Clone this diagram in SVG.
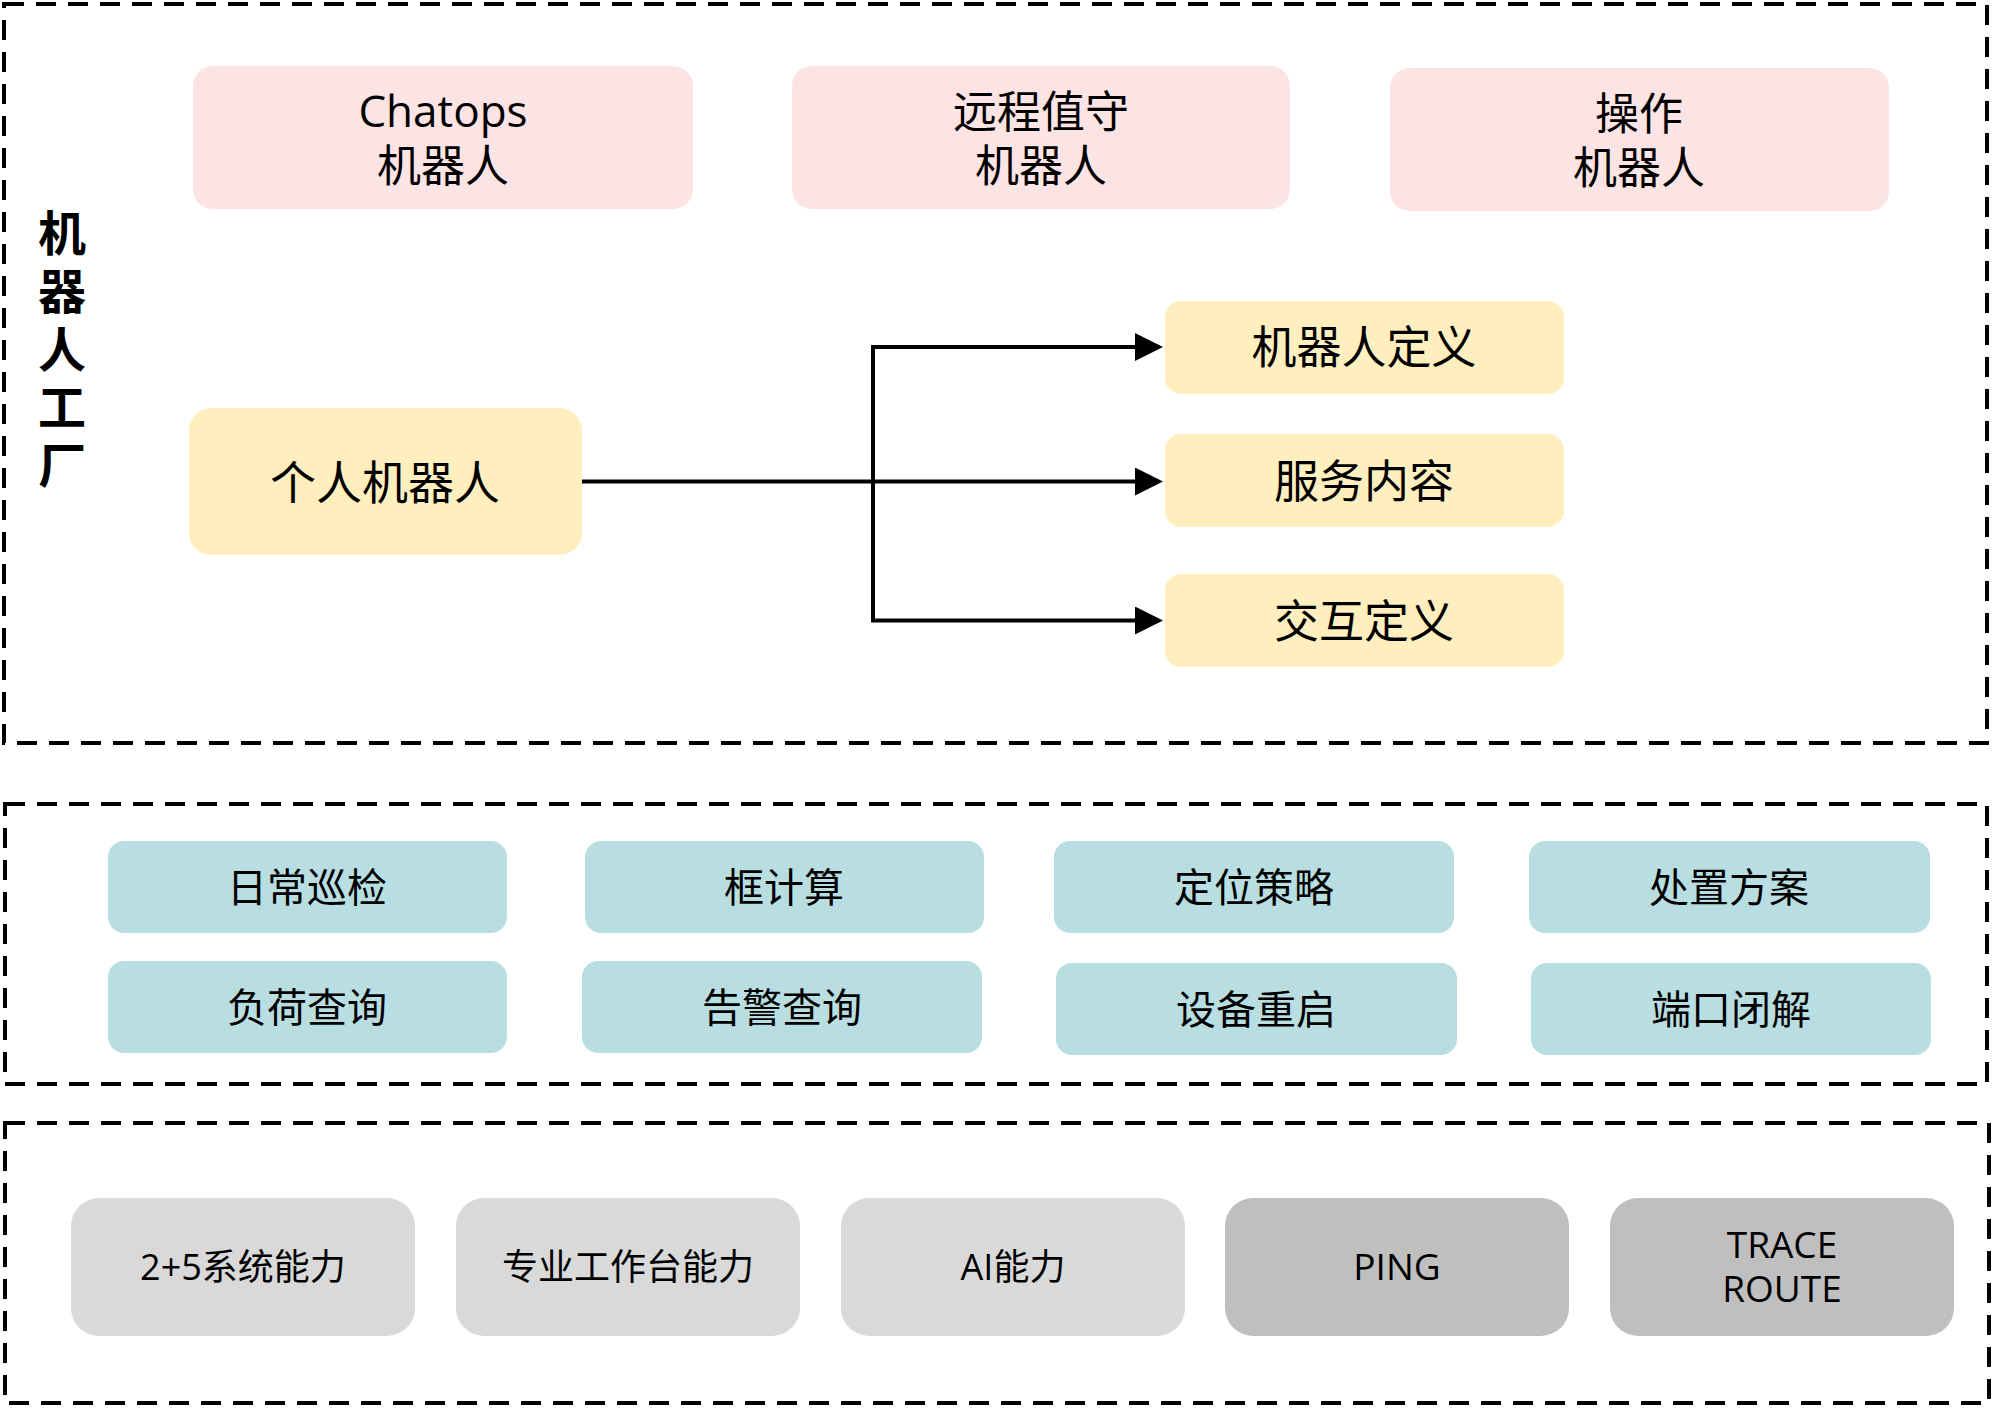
<svg xmlns="http://www.w3.org/2000/svg" width="2000" height="1415" viewBox="0 0 2000 1415">
<defs>
<style>
.frame{fill:none;stroke:#000;stroke-width:4;stroke-dasharray:20 12}
.pink{fill:#fde4e4}
.yellow{fill:#ffefbf}
.teal{fill:#b8dee2}
.lgray{fill:#d9d9d9}
.dgray{fill:#bfbfbf}
text{font-family:"Open Sans","Noto Sans CJK SC",sans-serif;fill:#000;text-anchor:middle}
.t44{font-size:44px}
.t45{font-size:45px}
.t40{font-size:40px}
.t36{font-size:36px}
.title{font-family:"Noto Sans CJK SC",sans-serif;font-size:48px;font-weight:bold;writing-mode:vertical-rl;text-orientation:upright;letter-spacing:10px;text-anchor:start}
.conn{fill:none;stroke:#000;stroke-width:4}
</style>
<marker id="arrow" markerUnits="userSpaceOnUse" markerWidth="28" markerHeight="28" refX="15" refY="14" orient="auto">
<path d="M0,0 L28,14 L0,28 z" fill="#000"/>
</marker>
</defs>
<rect width="2000" height="1415" fill="#fff"/>

<g id="frames">
<rect class="frame" x="4" y="4" width="1983" height="739"/>
<rect class="frame" x="5" y="804" width="1982" height="280"/>
<rect class="frame" x="5" y="1123" width="1984" height="280"/>
</g>

<g id="factory-title">
<text class="title" x="62" y="209">机器人工厂</text>
</g>

<g id="chatops-robot">
<rect class="pink" x="193" y="66" width="500" height="143" rx="20"/>
<text class="t44" x="443" y="127">Chatops<tspan x="443" dy="55">机器人</tspan></text>
</g>
<g id="remote-robot">
<rect class="pink" x="792" y="66" width="498" height="143" rx="20"/>
<text class="t44" x="1041" y="128">远程值守<tspan x="1041" dy="54">机器人</tspan></text>
</g>
<g id="operation-robot">
<rect class="pink" x="1390" y="68" width="499" height="143" rx="20"/>
<text class="t44" x="1639" y="130">操作<tspan x="1639" dy="54">机器人</tspan></text>
</g>

<g id="personal-robot">
<rect class="yellow" x="189" y="408" width="393" height="147" rx="22"/>
<text x="385" y="499" style="font-size:46px">个人机器人</text>
</g>
<g id="robot-definition">
<rect class="yellow" x="1165" y="301" width="399" height="93" rx="16"/>
<text class="t45" x="1364" y="364">机器人定义</text>
</g>
<g id="service-content">
<rect class="yellow" x="1165" y="434" width="399" height="93" rx="16"/>
<text class="t45" x="1364" y="498">服务内容</text>
</g>
<g id="interaction-definition">
<rect class="yellow" x="1165" y="574" width="399" height="93" rx="16"/>
<text class="t45" x="1364" y="638">交互定义</text>
</g>

<g id="connectors">
<path class="conn" d="M582,481.5 H1150" marker-end="url(#arrow)"/>
<path class="conn" d="M873,347 V621"/>
<path class="conn" d="M871,347 H1150" marker-end="url(#arrow)"/>
<path class="conn" d="M871,620.5 H1150" marker-end="url(#arrow)"/>
</g>

<g id="daily-inspection">
<rect class="teal" x="108" y="841" width="399" height="92" rx="16"/>
<text class="t40" x="307" y="902">日常巡检</text>
</g>
<g id="frame-compute">
<rect class="teal" x="585" y="841" width="399" height="92" rx="16"/>
<text class="t40" x="784" y="902">框计算</text>
</g>
<g id="locate-strategy">
<rect class="teal" x="1054" y="841" width="400" height="92" rx="16"/>
<text class="t40" x="1254" y="902">定位策略</text>
</g>
<g id="disposal-plan">
<rect class="teal" x="1529" y="841" width="401" height="92" rx="16"/>
<text class="t40" x="1729" y="902">处置方案</text>
</g>
<g id="load-query">
<rect class="teal" x="108" y="961" width="399" height="92" rx="16"/>
<text class="t40" x="307" y="1022">负荷查询</text>
</g>
<g id="alarm-query">
<rect class="teal" x="582" y="961" width="400" height="92" rx="16"/>
<text class="t40" x="782" y="1022">告警查询</text>
</g>
<g id="device-restart">
<rect class="teal" x="1056" y="963" width="401" height="92" rx="16"/>
<text class="t40" x="1256" y="1024">设备重启</text>
</g>
<g id="port-toggle">
<rect class="teal" x="1531" y="963" width="400" height="92" rx="16"/>
<text class="t40" x="1731" y="1024">端口闭解</text>
</g>

<g id="system-capability">
<rect class="lgray" x="71" y="1198" width="344" height="138" rx="28"/>
<text class="t36" x="243" y="1280">2+5系统能力</text>
</g>
<g id="workbench-capability">
<rect class="lgray" x="456" y="1198" width="344" height="138" rx="28"/>
<text class="t36" x="628" y="1280">专业工作台能力</text>
</g>
<g id="ai-capability">
<rect class="lgray" x="841" y="1198" width="344" height="138" rx="28"/>
<text class="t36" x="1013" y="1280">AI能力</text>
</g>
<g id="ping">
<rect class="dgray" x="1225" y="1198" width="344" height="138" rx="28"/>
<text x="1397" y="1280" style="font-size:37px">PING</text>
</g>
<g id="traceroute">
<rect class="dgray" x="1610" y="1198" width="344" height="138" rx="28"/>
<text x="1782" y="1258" style="font-size:37px">TRACE<tspan x="1782" dy="44">ROUTE</tspan></text>
</g>
</svg>
